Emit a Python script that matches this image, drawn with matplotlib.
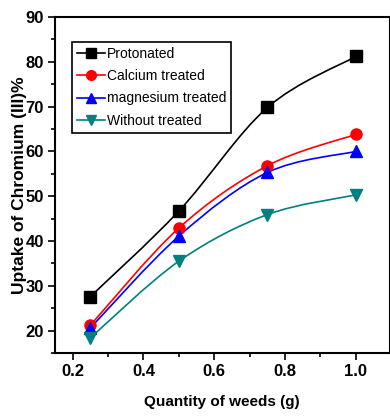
import matplotlib
matplotlib.use("Agg")
import matplotlib.pyplot as plt
from matplotlib.path import Path
from matplotlib.patches import PathPatch
from matplotlib.lines import Line2D
from matplotlib.ticker import MultipleLocator

plt.rcParams['font.family'] = ['Liberation Sans Narrow', 'Liberation Sans', 'DejaVu Sans']

# data
weeds = [0.25, 0.5, 0.75, 1.0]
protonated = [27.6, 46.7, 69.8, 81.2]
calcium = [21.2, 42.9, 56.8, 63.8]
magnesium = [20.6, 41.1, 55.3, 60.0]
without = [18.4, 35.5, 45.9, 50.3]
labels = ['Protonated', 'Calcium treated', 'magnesium treated', 'Without treated']
colors = ['black', 'red', 'blue', '#008080']
markers = ['s', 'o', '^', 'v']


def smooth_path(x, y):
    # catmull-rom segments drawn as cubic bezier curves
    pts = list(zip(x, y))
    ext = [pts[0]] + pts + [pts[-1]]
    verts = [pts[0]]
    codes = [Path.MOVETO]
    for i in range(1, len(ext) - 2):
        p0, p1, p2, p3 = ext[i - 1], ext[i], ext[i + 1], ext[i + 2]
        c1 = (p1[0] + (p2[0] - p0[0]) / 6., p1[1] + (p2[1] - p0[1]) / 6.)
        c2 = (p2[0] - (p3[0] - p1[0]) / 6., p2[1] - (p3[1] - p1[1]) / 6.)
        verts += [c1, c2, p2]
        codes += [Path.CURVE4] * 3
    return Path(verts, codes)


fig = plt.figure(figsize=(3.9, 4.16), dpi=100)
ax = fig.add_axes([55 / 390., 1 - 353 / 416., 334.5 / 390., 336 / 416.])

handles = []
for ys, lab, c, m in zip([protonated, calcium, magnesium, without], labels, colors, markers):
    ax.add_patch(PathPatch(smooth_path(weeds, ys), facecolor='none', edgecolor=c, lw=1.2, zorder=2))
    ax.plot(weeds, ys, linestyle='none', marker=m, color=c, markersize=8, zorder=3)
    handles.append(Line2D([], [], color=c, marker=m, markersize=7, lw=1.2, label=lab))

ax.set_xlim(0.15, 1.095)
ax.set_ylim(15, 90)
ax.xaxis.set_major_locator(MultipleLocator(0.2))
ax.xaxis.set_minor_locator(MultipleLocator(0.1))
ax.yaxis.set_major_locator(MultipleLocator(10))
ax.yaxis.set_minor_locator(MultipleLocator(5))
ax.tick_params(which='both', direction='out', width=1.2, labelsize=12, pad=3)
ax.tick_params(which='major', length=5)
ax.tick_params(which='minor', length=3)
for t in ax.get_xticklabels() + ax.get_yticklabels():
    t.set_fontweight('bold')
for s in ax.spines.values():
    s.set_linewidth(1.5)

ax.set_xlabel('Quantity of weeds (g)', fontsize=11, fontweight='bold')
ax.xaxis.set_label_coords(0.5, -0.125)
ax.set_ylabel('Uptake of Chromium (III)%', fontsize=12.5, fontweight='bold')
ax.yaxis.set_label_coords(-0.084, 0.5)

leg = ax.legend(handles=handles, loc='upper left', bbox_to_anchor=(0.051, 0.926),
                borderaxespad=0, fontsize=10, fancybox=False, framealpha=1,
                edgecolor='black', handlelength=2.0, handletextpad=0.15,
                labelspacing=0.6, borderpad=0.35)
leg.get_frame().set_linewidth(1.2)

fig.savefig('out.png', dpi=100)
